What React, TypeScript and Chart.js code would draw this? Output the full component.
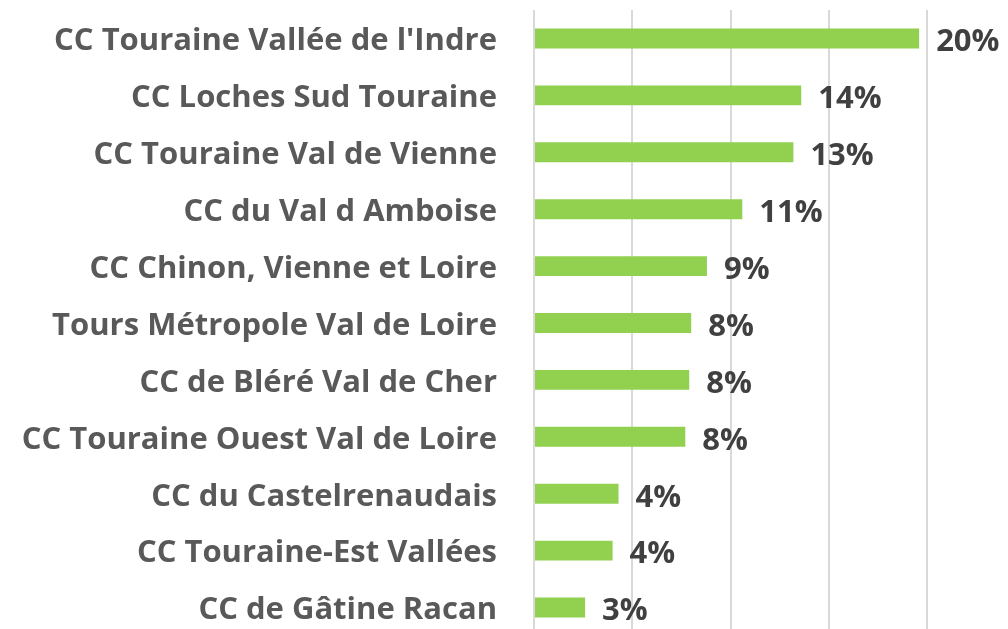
import React, { useEffect, useRef } from "react";
import { Chart, registerables } from "chart.js";

Chart.register(...registerables);

const categories = [
  "CC Touraine Vallée de l'Indre",
  "CC Loches Sud Touraine",
  "CC Touraine Val de Vienne",
  "CC du Val d Amboise",
  "CC Chinon, Vienne et Loire",
  "Tours Métropole Val de Loire",
  "CC de Bléré Val de Cher",
  "CC Touraine Ouest Val de Loire",
  "CC du Castelrenaudais",
  "CC Touraine-Est Vallées",
  "CC de Gâtine Racan",
];

const shares = [19.6, 13.6, 13.2, 10.6, 8.8, 8.0, 7.9, 7.7, 4.3, 4.0, 2.6];

const FONT = "'Open Sans', sans-serif";

export default function App() {
  const ref = useRef<HTMLCanvasElement>(null);

  useEffect(() => {
    if (!ref.current) return;
    const labelPlugin = {
      id: "valueLabels",
      afterDatasetsDraw(chart: any) {
        const ctx = chart.ctx;
        const meta = chart.getDatasetMeta(0);
        ctx.save();
        ctx.font = `bold 31px ${FONT}`;
        ctx.fillStyle = "#404040";
        ctx.textAlign = "left";
        ctx.textBaseline = "middle";
        meta.data.forEach((bar: any, i: number) => {
          ctx.fillText(`${Math.round(shares[i])}%`, bar.x + 17, bar.y + 4);
        });
        ctx.restore();
      },
    };
    const chart = new Chart(ref.current, {
      type: "bar",
      data: {
        labels: categories,
        datasets: [
          {
            data: shares,
            backgroundColor: "#92d050",
            borderWidth: 0,
            barPercentage: 0.5,
            categoryPercentage: 0.7,
          },
        ],
      },
      options: {
        indexAxis: "y",
        responsive: false,
        animation: false,
        layout: { padding: { top: 10, right: 81, bottom: 0, left: 0 } },
        plugins: { legend: { display: false }, tooltip: { enabled: false } },
        scales: {
          x: {
            min: 0,
            max: 20,
            ticks: { display: false, stepSize: 5 },
            grid: { color: "#d9d9d9", lineWidth: 2, drawTicks: false },
            border: { display: false },
          },
          y: {
            afterFit: (s: any) => {
              s.width = 534;
              s.paddingTop = 0;
              s.paddingBottom = 0;
            },
            ticks: {
              color: "#595959",
              font: { family: FONT, size: 31, weight: "bold" },
              padding: 37,
              labelOffset: 3,
            },
            grid: { display: false, drawTicks: false },
            border: { display: false },
          },
        },
      },
      plugins: [labelPlugin],
    });
    return () => chart.destroy();
  }, []);

  return (
    <div
      style={{
        position: "fixed",
        left: 0,
        top: 0,
        width: 1008,
        height: 629,
        overflow: "hidden",
        background: "#fff",
      }}
    >
      <canvas ref={ref} width={1008} height={636} style={{ display: "block" }} />
    </div>
  );
}
